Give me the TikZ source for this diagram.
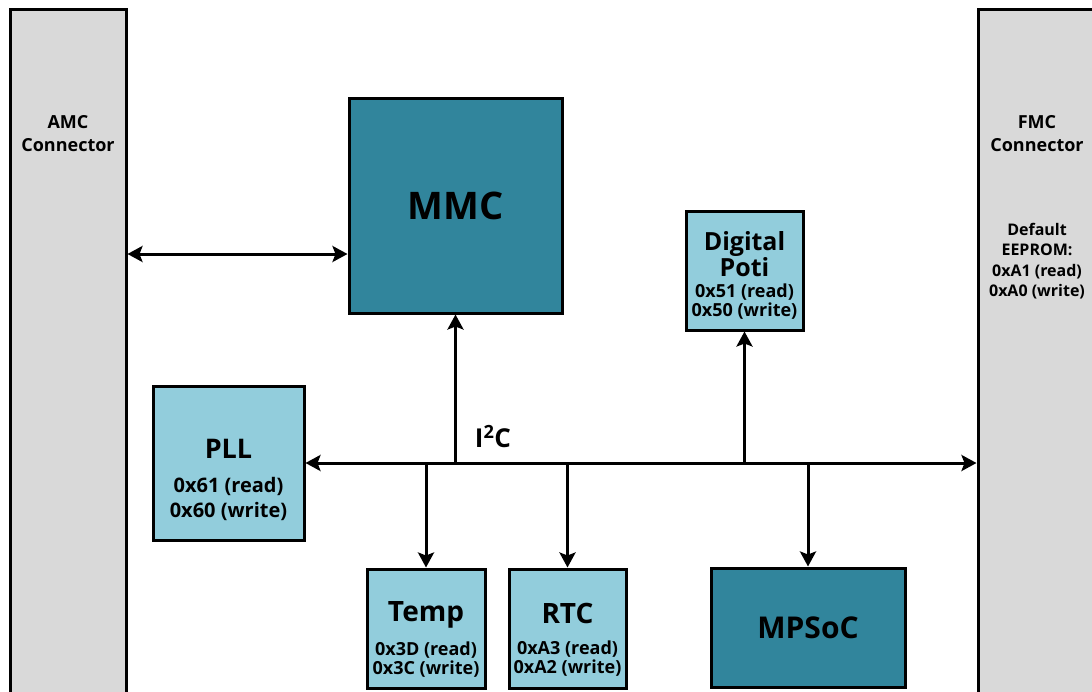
\documentclass[tikz,border=0pt]{standalone}
\usepackage{fontspec}
\setmainfont{Open Sans}
\usepackage{xcolor}
\usetikzlibrary{arrows.meta,positioning}

\definecolor{mmcteal}{HTML}{31859C}
\definecolor{chipblue}{HTML}{92CDDC}
\definecolor{conngray}{HTML}{D9D9D9}

\newcommand{\fsz}[2]{\fontsize{#1}{#2}\selectfont}

\begin{document}
\begin{tikzpicture}[x=1pt,y=-1pt,
  >={Stealth[length=15pt,width=16pt,inset=3pt]},
  conn/.style={draw,line width=3pt,fill=conngray,minimum width=116pt,
    minimum height=908pt,inner sep=0pt},
  conntext/.style={font=\bfseries,align=center,inner sep=0pt},
  darkbox/.style={draw,line width=3pt,fill=mmcteal,font=\bfseries,inner sep=0pt},
  chip/.style={draw,line width=3pt,fill=chipblue,inner sep=0pt},
  chiptext/.style={font=\bfseries,align=center,inner sep=0pt},
  bus/.style={line width=3pt}]
  \useasboundingbox (0,0) rectangle (1092,691);

  % backplane and mezzanine connectors, cut off at the page edges
  \node[conn,label={[conntext,font=\bfseries\fsz{18}{23},yshift=329pt]center:{AMC\\Connector}}]
    (AMC) at (68,463) {};
  \node[conn,minimum width=118pt,
    label={[conntext,font=\bfseries\fsz{18}{23},yshift=329pt]center:{FMC\\Connector}},
    label={[conntext,font=\bfseries\fsz{16}{20.5},yshift=202pt]center:{Default\\EEPROM:\\0xA1 (read)\\0xA0 (write)}}]
    (FMC) at (1037,463) {};

  % controllers
  \node[darkbox,minimum width=213pt,minimum height=215pt] (MMC) at (455.5,205.5) {\fsz{38}{40}MMC};
  \node[darkbox,minimum width=194pt,minimum height=119pt] (MPSoC) at (808,627.5) {\fsz{30}{32}MPSoC};

  % I2C slaves
  \node[chip,minimum width=151pt,minimum height=154pt,
    label={[chiptext,font=\bfseries\fsz{20}{25},yshift=-17pt]center:{\fsz{27}{30}PLL\\[9pt]0x61 (read)\\0x60 (write)}}]
    (PLL) at (228.5,463) {};
  \node[chip,minimum width=117pt,minimum height=119pt,
    label={[chiptext,font=\bfseries\fsz{18}{19},yshift=-4.5pt]center:{\fsz{25}{30}Digital\\\fsz{25}{30}Poti\\[2pt]0x51 (read)\\0x50 (write)}}]
    (Poti) at (744.5,270.5) {};
  \node[chip,minimum width=118pt,minimum height=119pt,
    label={[chiptext,font=\bfseries\fsz{18}{19},yshift=-11pt]center:{\fsz{28}{30}Temp\\[12pt]0x3D (read)\\0x3C (write)}}]
    (Temp) at (426,628.5) {};
  \node[chip,minimum width=117pt,minimum height=119pt,
    label={[chiptext,font=\bfseries\fsz{18}{19},yshift=-11pt]center:{\fsz{28}{30}RTC\\[12pt]0xA3 (read)\\0xA2 (write)}}]
    (RTC) at (567.5,628.5) {};

  \node[chiptext,font=\bfseries\fsz{26}{28}] (i2c) at (493,437) {I\textsuperscript{2}C};

  % bus and taps
  \coordinate (mmcin) at ([yshift=-48.5pt]MMC.west);
  \draw[bus,<->] (AMC.east |- mmcin) -- (mmcin);
  \draw[bus,<->] (PLL.east) -- (FMC.west);
  \draw[bus,->] (MMC.south |- PLL.east) -- (MMC.south);
  \draw[bus,->] (Poti.south |- PLL.east) -- (Poti.south);
  \draw[bus,->] (Temp.north |- PLL.east) -- (Temp.north);
  \draw[bus,->] (RTC.north |- PLL.east) -- (RTC.north);
  \draw[bus,->] (MPSoC.north |- PLL.east) -- (MPSoC.north);
\end{tikzpicture}
\end{document}
